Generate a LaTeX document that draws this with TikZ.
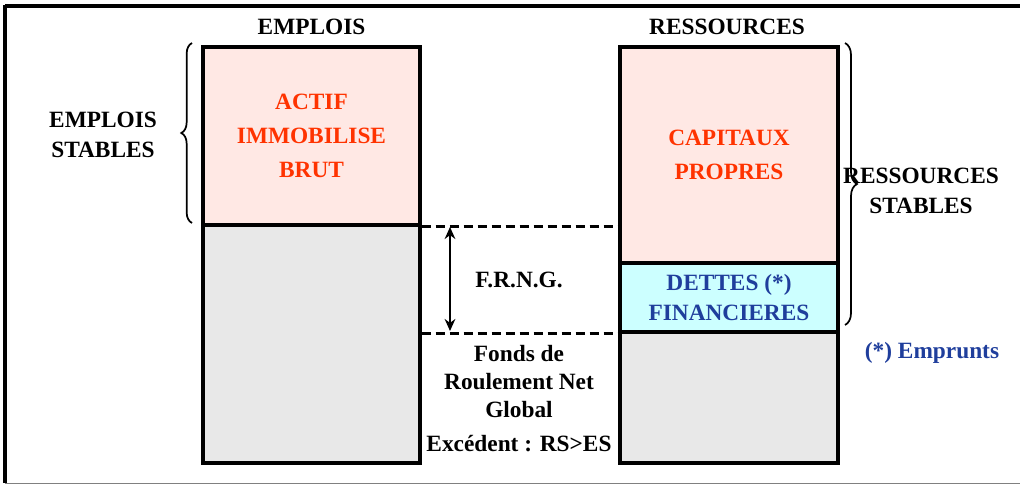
\documentclass[tikz,border=0pt]{standalone}
\usepackage{fontspec}
\setmainfont{Liberation Serif}
\usetikzlibrary{decorations.pathreplacing,arrows.meta}
\definecolor{redtxt}{HTML}{FF3300}
\definecolor{pinkfill}{HTML}{FFE8E4}
\definecolor{greyfill}{HTML}{E8E8E8}
\definecolor{cyanfill}{HTML}{CCFFFF}
\definecolor{bluetxt}{HTML}{1F3E9C}
\begin{document}
\begin{tikzpicture}[x=0.75pt,y=-0.75pt,
  txt/.style={font=\bfseries\fontsize{17.5}{25.5}\selectfont, align=center, inner sep=0pt},
  blk/.style={draw=black, line width=2.6pt, inner sep=0pt, align=center,
    font=\bfseries\fontsize{17.5}{25.5}\selectfont},
  dashline/.style={line width=2.3pt, dash pattern=on 7pt off 3.5pt},
  bracestyle/.style={decorate, line width=1.3pt}]
\useasboundingbox (0,0) rectangle (1020,485);
% frame
\draw[line width=3pt] (5,6.5) -- (1020,6.5);
\draw[line width=3pt] (5,5) -- (5,483);
\draw[line width=1pt, gray] (5,483.5) -- (1020,483.5);
% boxes
\node[blk, fill=pinkfill, text=redtxt, minimum width=162.75pt, minimum height=133.5pt] (LT) at (311.5,136) {ACTIF\\IMMOBILISE\\BRUT};
\node[blk, fill=greyfill, minimum width=162.75pt, minimum height=178.5pt] (LB) at (311.5,344) {};
\node[blk, fill=pinkfill, text=redtxt, minimum width=163.5pt, minimum height=162pt] (RT) at (729,155) {CAPITAUX\\PROPRES};
\node[blk, fill=cyanfill, text=bluetxt, minimum width=163.5pt, minimum height=51.75pt, font=\bfseries\fontsize{17.5}{22.5}\selectfont] (D) at (729,297.5) {DETTES (*)\\FINANCIERES};
\node[blk, fill=greyfill, minimum width=163.5pt, minimum height=98.25pt] (RB) at (729,397.5) {};
% headers
\node[txt] (H1) at (311.5,27) {EMPLOIS};
\node[txt] (H2) at (727,27) {RESSOURCES};
% dashed lines
\draw[dashline] (LT.south east) -- (RT.west |- LT.south east);
\draw[dashline] (LB.east |- D.south west) -- (D.south west);
% arrow
\coordinate (A1) at (450,227);
\coordinate (A2) at (450,331);
\draw[line width=1.6pt, {Stealth[length=9pt,width=8pt]}-{Stealth[length=9pt,width=8pt]}] (A1) -- (A2);
% braces
\coordinate (B1a) at (192,223);
\coordinate (B1b) at (192,43);
\draw[bracestyle, decoration={brace, amplitude=8pt}] (B1a) -- (B1b);
\coordinate (B2a) at (845,43);
\coordinate (B2b) at (845,325);
\draw[bracestyle, decoration={brace, amplitude=9pt}] (B2a) -- (B2b);
% labels
\node[txt, font=\bfseries\fontsize{17.5}{22.5}\selectfont] (ES) at (103,135) {EMPLOIS\\STABLES};
\node[txt, font=\bfseries\fontsize{17.5}{22.5}\selectfont] (RS) at (921,191) {RESSOURCES\\STABLES};
\node[txt] (F) at (519,280) {F.R.N.G.};
\node[txt, font=\bfseries\fontsize{17.5}{21}\selectfont] (FR) at (519,382) {Fonds de\\Roulement Net\\Global};
\node[txt] (EX) at (519,444) {Excédent : RS>ES};
\node[txt, text=bluetxt] (EM) at (932,353) {(*) Emprunts};
\end{tikzpicture}
\end{document}
